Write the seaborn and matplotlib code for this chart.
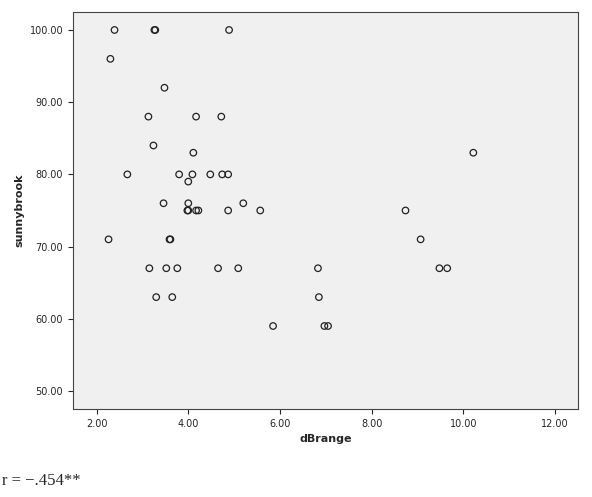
import matplotlib
matplotlib.use("Agg")
import matplotlib.pyplot as plt
import seaborn as sns
import pandas as pd

dBrange = [2.39, 3.26, 3.28, 4.89, 2.30, 3.48, 3.13, 4.17, 4.72, 3.24, 4.11, 10.22,
           2.67, 3.80, 4.09, 4.48, 4.74, 4.87, 4.00, 3.46, 4.00, 5.20, 3.98, 4.00,
           4.17, 4.22, 4.87, 5.57, 8.74, 3.59, 3.61, 2.26, 9.07, 3.15, 3.52, 3.76,
           4.65, 5.09, 6.83, 9.48, 9.65, 3.30, 3.65, 6.85, 5.85, 6.97, 7.05]
sunnybrook = [100, 100, 100, 100, 96, 92, 88, 88, 88, 84, 83, 83,
              80, 80, 80, 80, 80, 80, 79, 76, 76, 76, 75, 75,
              75, 75, 75, 75, 75, 71, 71, 71, 71, 67, 67, 67,
              67, 67, 67, 67, 67, 63, 63, 63, 59, 59, 59]
xticks = [2, 4, 6, 8, 10, 12]
yticks = [50, 60, 70, 80, 90, 100]

df = pd.DataFrame({"dBrange": dBrange, "sunnybrook": sunnybrook})
sns.set_style("ticks")
fig = plt.figure(figsize=(5.92, 4.97), dpi=100)
ax = fig.add_axes([0.123, 0.177, 0.853, 0.799])
ax.set_facecolor("#f0f0f0")
sns.scatterplot(data=df, x="dBrange", y="sunnybrook", ax=ax, marker="o",
                facecolor="none", edgecolor="#222222", linewidth=0.9, s=22)
ax.set_xlim(1.48, 12.5)
ax.set_ylim(47.5, 102.5)
ax.set_xticks(xticks)
ax.set_xticklabels([f"{t:.2f}" for t in xticks], fontsize=7)
ax.set_yticks(yticks)
ax.set_yticklabels([f"{t:.2f}" for t in yticks], fontsize=7)
ax.set_xlabel("dBrange", fontsize=8, fontweight="bold")
ax.set_ylabel("sunnybrook", fontsize=8, fontweight="bold")
for s in ax.spines.values():
    s.set_color("#444444"); s.set_linewidth(0.8)
fig.text(0.003, 0.025, "r = \u2212.454**", fontsize=12, family="Liberation Serif")
fig.savefig("out.png", dpi=100)
